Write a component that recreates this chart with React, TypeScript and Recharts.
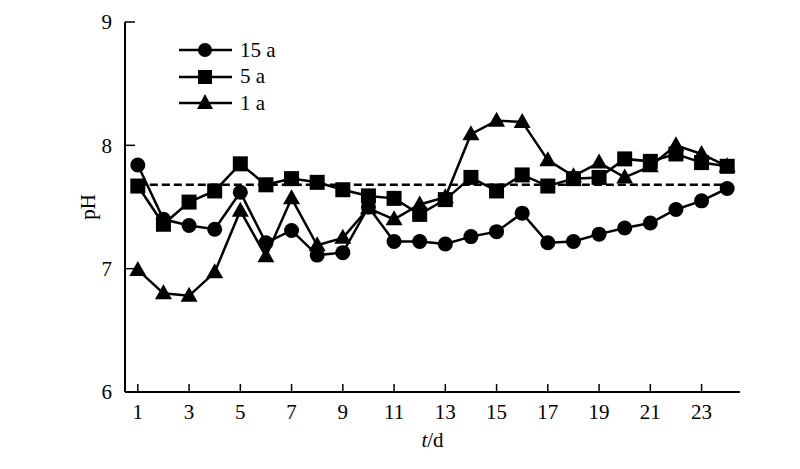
import { LineChart, Line, XAxis, YAxis, ReferenceLine } from 'recharts';

const days = [1, 2, 3, 4, 5, 6, 7, 8, 9, 10, 11, 12, 13, 14, 15, 16, 17, 18, 19, 20, 21, 22, 23, 24];
const ph15a = [7.84, 7.40, 7.35, 7.32, 7.62, 7.21, 7.31, 7.11, 7.13, 7.50, 7.22, 7.22, 7.20, 7.26, 7.30, 7.45, 7.21, 7.22, 7.28, 7.33, 7.37, 7.48, 7.55, 7.65];
const ph5a = [7.67, 7.36, 7.54, 7.63, 7.85, 7.68, 7.73, 7.70, 7.64, 7.59, 7.57, 7.44, 7.56, 7.74, 7.63, 7.76, 7.67, 7.73, 7.74, 7.89, 7.87, 7.93, 7.86, 7.83];
const ph1a = [6.99, 6.80, 6.78, 6.97, 7.47, 7.10, 7.57, 7.19, 7.25, 7.49, 7.40, 7.52, 7.58, 8.09, 8.20, 8.19, 7.88, 7.75, 7.86, 7.74, 7.83, 8.00, 7.93, 7.83];
const meanPH = 7.68;
const xTicks = [1, 3, 5, 7, 9, 11, 13, 15, 17, 19, 21, 23];
const yTicks = [6, 7, 8, 9];

const data = days.map((d, i) => ({ day: d, a15: ph15a[i], a5: ph5a[i], a1: ph1a[i] }));

const FONT = '"Liberation Serif", "Times New Roman", serif';

const circleDot = (p: any) => <circle key={p.index} cx={p.cx} cy={p.cy} r={7.5} fill="#000" />;
const squareDot = (p: any) => <rect key={p.index} x={p.cx - 7.5} y={p.cy - 7.5} width={15} height={15} fill="#000" />;
const triDot = (p: any) => (
  <path key={p.index} d={`M${p.cx},${p.cy - 9}L${p.cx - 8.5},${p.cy + 6}L${p.cx + 8.5},${p.cy + 6}Z`} fill="#000" />
);

const YTick = (p: any) => (
  <g>
    <line x1={p.x + 13} x2={p.x + 23} y1={p.y} y2={p.y} stroke="#000" strokeWidth={1.5} />
    <text x={p.x} y={p.y} dy="0.355em" textAnchor="end" fontFamily={FONT} fontSize={21} fill="#000">
      {p.payload.value}
    </text>
  </g>
);

const XTick = (p: any) => (
  <g>
    <line x1={p.x} x2={p.x} y1={p.y - 12} y2={p.y - 20} stroke="#000" strokeWidth={1.5} />
    <text x={p.x} y={p.y} dy="0.71em" textAnchor="middle" fontFamily={FONT} fontSize={21} fill="#000">
      {p.payload.value}
    </text>
  </g>
);

const legendItems = [
  { name: '15 a', shape: 'circle' },
  { name: '5 a', shape: 'square' },
  { name: '1 a', shape: 'tri' },
];

function LegendBox() {
  return (
    <div style={{ position: 'absolute', left: 179, top: 37, fontFamily: FONT, fontSize: 21 }}>
      {legendItems.map((it) => (
        <div key={it.name} style={{ display: 'flex', alignItems: 'center', height: 26.5 }}>
          <svg width={61} height={20} style={{ display: 'block' }}>
            <line x1={0} x2={53} y1={10} y2={10} stroke="#000" strokeWidth={2.5} />
            {it.shape === 'circle' && <circle cx={26} cy={10} r={7} fill="#000" />}
            {it.shape === 'square' && <rect x={19} y={3} width={14} height={14} fill="#000" />}
            {it.shape === 'tri' && <path d="M26,1L18,16L34,16Z" fill="#000" />}
          </svg>
          <span>{it.name}</span>
        </div>
      ))}
    </div>
  );
}

export default function App() {
  return (
    <div style={{ position: 'absolute', left: 0, top: 0, width: 800, height: 469, background: '#fff' }}>
      <LineChart width={800} height={469} data={data} margin={{ top: 22, right: 60, bottom: 37, left: 65 }}>
        <XAxis
          dataKey="day"
          type="number"
          domain={[0.5, 24.5]}
          ticks={xTicks}
          interval={0}
          tickSize={0}
          tickMargin={12}
          height={40}
          tick={XTick}
          axisLine={{ stroke: '#000', strokeWidth: 2 }}
          tickLine={false}
          label={{
            content: (props: any) => {
              const vb = props.viewBox;
              return (
                <text x={vb.x + vb.width / 2} y={447} textAnchor="middle" fontFamily={FONT} fontSize={21} fill="#000">
                  <tspan fontStyle="italic">t</tspan>
                  <tspan>/d</tspan>
                </text>
              );
            },
          }}
        />
        <XAxis
          xAxisId="top"
          orientation="top"
          dataKey="day"
          type="number"
          domain={[0.5, 24.5]}
          height={0}
          tick={false}
          tickLine={false}
          axisLine={{ stroke: '#000', strokeWidth: 2 }}
        />
        <YAxis
          type="number"
          domain={[6, 9]}
          ticks={yTicks}
          width={60}
          tickSize={0}
          tickMargin={13}
          tick={YTick}
          axisLine={{ stroke: '#000', strokeWidth: 2 }}
          tickLine={false}
          label={{
            content: (props: any) => {
              const vb = props.viewBox;
              const cy = vb.y + vb.height / 2;
              return (
                <text x={88} y={cy} transform={`rotate(-90, 88, ${cy})`} textAnchor="middle" dy="0.35em" fontFamily={FONT} fontSize={21} fill="#000">
                  pH
                </text>
              );
            },
          }}
        />
        <YAxis
          yAxisId="right"
          orientation="right"
          type="number"
          domain={[6, 9]}
          width={0}
          tick={false}
          tickLine={false}
          axisLine={{ stroke: '#000', strokeWidth: 2 }}
        />
        <ReferenceLine
          segment={[{ x: 1, y: meanPH }, { x: 24, y: meanPH }]}
          stroke="#000"
          strokeWidth={2.5}
          strokeDasharray="8 4"
        />
        <Line dataKey="a1" name="1 a" stroke="#000" strokeWidth={2.5} dot={triDot} isAnimationActive={false} />
        <Line dataKey="a5" name="5 a" stroke="#000" strokeWidth={2.5} dot={squareDot} isAnimationActive={false} />
        <Line dataKey="a15" name="15 a" stroke="#000" strokeWidth={2.5} dot={circleDot} isAnimationActive={false} />
      </LineChart>
      <LegendBox />
    </div>
  );
}
